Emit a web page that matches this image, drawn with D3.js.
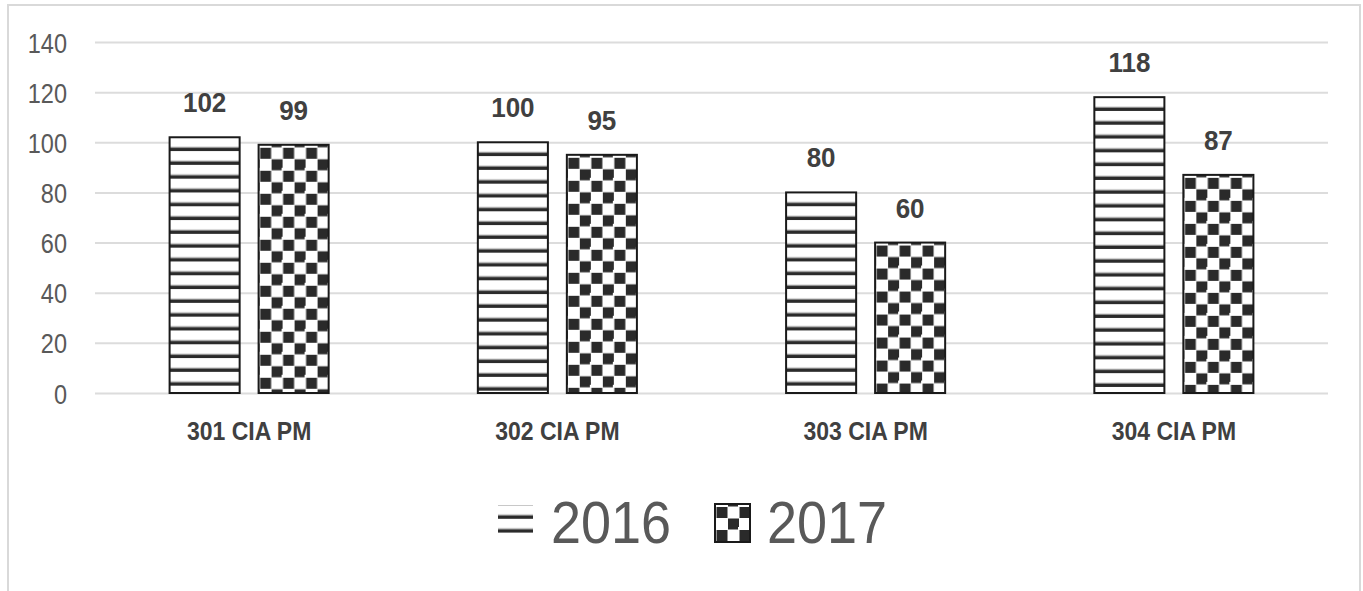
<!DOCTYPE html>
<html>
<head>
<meta charset="utf-8">
<script src="https://cdn.jsdelivr.net/npm/d3@7"></script>
<style>
  html, body { margin: 0; padding: 0; background: #fff; }
  svg { display: block; }
  text { font-family: "Liberation Sans", Arial, sans-serif; }
</style>
</head>
<body>
<svg id="chart" width="1363" height="591"></svg>
<script>
// ---- data ----
const categories = ["301 CIA PM", "302 CIA PM", "303 CIA PM", "304 CIA PM"];
const seriesNames = ["2016", "2017"];
const values2016 = [102, 100, 80, 118];
const values2017 = [99, 95, 60, 87];
const yTicks = [0, 20, 40, 60, 80, 100, 120, 140];

const svg = d3.select("#chart");

// outer chart border
svg.append("rect").attr("x", 8).attr("y", 5).attr("width", 1352).attr("height", 600)
  .attr("fill", "#fff").attr("stroke", "#d9d9d9").attr("stroke-width", 2);

const plot = { left: 95, right: 1328, top: 42, bottom: 393 };

const y = d3.scaleLinear().domain([0, 140]).range([plot.bottom, plot.top]);
const x0 = d3.scaleBand().domain(categories).range([plot.left, plot.right])
  .paddingInner(0.484).paddingOuter(0.242);
const x1 = d3.scaleBand().domain(seriesNames).range([0, x0.bandwidth()])
  .paddingInner(0.213).paddingOuter(0);

// patterns
const defs = svg.append("defs");
const stripe = defs.append("pattern").attr("id", "stripes")
  .attr("patternUnits", "userSpaceOnUse").attr("width", 20).attr("height", 13.8);
stripe.append("rect").attr("width", 20).attr("height", 13.8).attr("fill", "#fff");
stripe.append("rect").attr("x", 0).attr("y", 9.6).attr("width", 20).attr("height", 1.2).attr("fill", "#8a8a8a");
stripe.append("rect").attr("x", 0).attr("y", 10.8).attr("width", 20).attr("height", 3).attr("fill", "#2b2b2b");

const checker = defs.append("pattern").attr("id", "checker")
  .attr("patternUnits", "userSpaceOnUse").attr("width", 23).attr("height", 23);
checker.append("rect").attr("width", 23).attr("height", 23).attr("fill", "#fff");
[[1.5, 3], [13, 14.5], [-10, 14.5], [13, -8.5]].forEach(([cx, cy]) => {
  checker.append("rect").attr("x", cx).attr("y", cy).attr("width", 11).attr("height", 11).attr("fill", "#2a2a2a");
});

// gridlines + y tick labels
const yAxis = d3.axisLeft(y).tickValues(yTicks).tickSize(-(plot.right - plot.left)).tickPadding(0);
const gy = svg.append("g").attr("transform", `translate(${plot.left},0)`).call(yAxis);
gy.select(".domain").remove();
gy.selectAll(".tick line").attr("stroke", "#dcdcdc").attr("stroke-width", 2);
gy.selectAll(".tick text")
  .attr("x", 0).attr("dy", "0.36em")
  .attr("transform", "translate(-28,0) scale(0.84,1)")
  .attr("fill", "#595959").attr("font-size", 28)
  .attr("font-family", "'Liberation Sans', Arial, sans-serif");

// bars
const data = categories.map((c, i) => ({ cat: c, vals: [
  { s: "2016", v: values2016[i] }, { s: "2017", v: values2017[i] }] }));

const groups = svg.append("g").selectAll("g").data(data).join("g")
  .attr("transform", d => `translate(${x0(d.cat)},0)`);

const bars = groups.selectAll("g.bar").data(d => d.vals).join("g").attr("class", "bar")
  .attr("transform", d => `translate(${x1(d.s)},${y(d.v)})`);
bars.append("rect")
  .attr("x", 0).attr("y", 0)
  .attr("width", x1.bandwidth())
  .attr("height", d => y(0) - y(d.v))
  .attr("fill", d => d.s === "2016" ? "url(#stripes)" : "url(#checker)")
  .attr("stroke", "#1a1a1a").attr("stroke-width", 2);

// value labels
groups.selectAll("text.val").data(d => d.vals).join("text").attr("class", "val")
  .attr("transform", d => `translate(${x1(d.s) + x1.bandwidth() / 2},${y(d.v) - 25}) scale(0.93,1)`)
  .attr("text-anchor", "middle")
  .attr("font-size", 28).attr("font-weight", "bold").attr("fill", "#404040")
  .text(d => d.v);

// category labels
const xAxis = d3.axisBottom(x0).tickSize(0).tickPadding(0);
const gx = svg.append("g").attr("transform", `translate(0,${plot.bottom})`).call(xAxis);
gx.select(".domain").remove();
gx.selectAll(".tick text").attr("dy", null).attr("y", 0)
  .attr("transform", "translate(0,47) scale(0.92,1)")
  .attr("font-size", 25).attr("font-weight", "bold").attr("fill", "#404040")
  .attr("font-family", "'Liberation Sans', Arial, sans-serif");

// legend
const legend = svg.append("g");
const k1 = legend.append("g").attr("transform", "translate(498,505)");
k1.append("rect").attr("width", 35).attr("height", 28).attr("fill", "url(#stripes)");
k1.append("line").attr("x1", 0).attr("x2", 35).attr("y1", 0.5).attr("y2", 0.5).attr("stroke", "#c8c8c8").attr("stroke-width", 1);
legend.append("text").attr("transform", "translate(551,543) scale(0.9,1)")
  .attr("font-size", 60).attr("fill", "#595959").text(seriesNames[0]);

const k2 = legend.append("g").attr("transform", "translate(715,504)");
k2.append("rect").attr("width", 35).attr("height", 38).attr("fill", "url(#checker)")
  .attr("stroke", "#1a1a1a").attr("stroke-width", 2);
legend.append("text").attr("transform", "translate(767,543) scale(0.9,1)")
  .attr("font-size", 60).attr("fill", "#595959").text(seriesNames[1]);
</script>
</body>
</html>
